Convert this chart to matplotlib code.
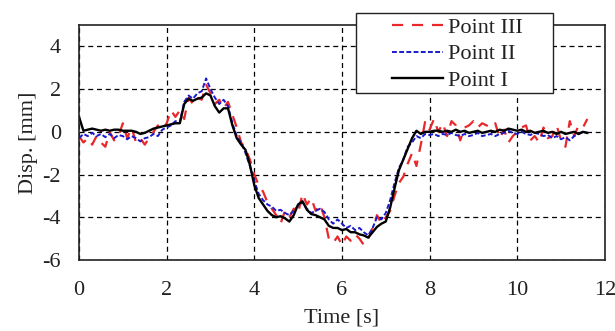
import matplotlib
matplotlib.use('Agg')
import matplotlib.pyplot as plt
import matplotlib.patches as mpatches
import numpy as np

plt.rcParams['font.family'] = ['Liberation Serif', 'DejaVu Serif']
plt.rcParams['axes.unicode_minus'] = False

# sampling grid, 0.1 s
time = np.round(np.arange(0, 11.65, 0.1), 2)

point1 = [0.7, 0.05, 0.1, 0.15, 0.1, 0.05, 0.1, 0.05, 0.1, 0.1,
          0.05, 0.05, 0.05, 0.0, -0.1, -0.05, 0.05, 0.15, 0.2, 0.25,
          0.3, 0.35, 0.4, 0.4, 1.3, 1.55, 1.45, 1.55, 1.6, 1.8,
          1.7, 1.2, 0.9, 1.1, 1.1, 0.3, -0.3, -0.6, -0.85, -1.55,
          -2.5, -3.1, -3.4, -3.7, -3.9, -4.0, -3.95, -4.05, -4.2, -3.9,
          -3.4, -3.25, -3.65, -3.85, -3.9, -4.0, -4.1, -4.4, -4.5, -4.5,
          -4.6, -4.55, -4.7, -4.7, -4.8, -4.85, -4.95, -4.7, -4.45, -4.3,
          -4.2, -3.55, -2.65, -1.8, -1.3, -0.8, -0.3, 0.05, -0.1, 0.0,
          0.0, 0.05, 0.05, 0.0, 0.05, 0.0, 0.1, 0.0, 0.05, -0.05,
          0.0, 0.05, -0.05, 0.0, 0.05, 0.0, 0.1, 0.05, 0.15, 0.1,
          0.05, 0.1, 0.0, 0.05, -0.05, 0.0, 0.05, -0.05, 0.0, -0.1,
          0.0, -0.1, -0.05, 0.0, -0.1, 0.0, -0.05]

point2 = [-0.3, -0.1, -0.2, -0.05, -0.2, -0.1, -0.25, -0.1, -0.3, -0.15,
          -0.2, -0.35, -0.2, -0.3, -0.45, -0.3, -0.25, -0.1, -0.2, 0.1,
          0.2, 0.3, 0.5, 0.45, 1.4, 1.7, 1.55, 1.8, 1.9, 2.5,
          2.0, 1.6, 1.3, 1.5, 1.2, 0.4, -0.2, -0.5, -1.0, -1.6,
          -2.3, -2.9, -3.2, -3.4, -3.5, -3.7, -3.65, -3.8, -3.9, -3.7,
          -3.45, -3.3, -3.6, -3.8, -3.7, -3.6, -3.75, -4.1, -4.3, -4.1,
          -4.3, -4.5, -4.4, -4.6, -4.5, -4.7, -4.85, -4.5, -4.0, -4.1,
          -3.8, -3.2, -2.4, -1.7, -1.3, -0.7, -0.5, -0.2, -0.3, -0.1,
          -0.15, -0.1, -0.2, -0.1, -0.15, -0.05, -0.15, -0.2, -0.1, -0.2,
          -0.15, -0.05, -0.2, -0.15, -0.1, -0.2, -0.1, -0.05, 0.05, -0.05,
          -0.1, 0.0, -0.1, -0.15, -0.05, -0.1, -0.2, -0.15, -0.3, -0.2,
          -0.35, -0.25, -0.4, -0.2, -0.1, 0.0, -0.05]

point3 = [-0.2, -0.5, -0.3, -0.6, -0.2, -0.5, -0.7, 0.0, -0.4, -0.2,
          0.4, -0.3, 0.2, -0.5, -0.3, -0.6, -0.3, 0.0, 0.3, 0.1,
          0.4, 1.0, 0.7, 1.0, 0.6, 1.6, 1.3, 1.6, 1.5, 2.2,
          1.8, 1.3, 1.5, 1.1, 1.4, 0.8, 0.2, -0.5, -0.8, -1.3,
          -2.0, -2.5, -2.8, -3.3, -3.6, -3.9, -4.3, -3.7, -4.0, -3.6,
          -3.8, -2.9, -3.4, -3.1, -3.7, -3.4, -4.0, -5.0, -5.2, -4.9,
          -5.3, -4.9, -5.1, -4.8, -5.0, -5.3, -5.0, -4.5, -3.9, -4.3,
          -4.0, -3.7, -3.0, -2.4, -2.1, -1.5, -1.0, -1.6, -0.6, 0.5,
          0.1, 0.6, 0.0, 0.4, -0.2, 0.5, 0.3, -0.4, 0.2, 0.3,
          0.5, 0.2, 0.4, 0.3, 0.2, 0.4, -0.3, 0.1, -0.5, -0.2,
          0.0, 0.2, 0.3, -0.4, -0.2, -0.5, 0.2, -0.3, -0.2, 0.3,
          -0.4, -0.7, 0.5, -0.2, 0.3, 0.2, 0.6]

xticks = [0, 2, 4, 6, 8, 10, 12]
yticks = [-6, -4, -2, 0, 2, 4]

W, H = 615, 331
fig = plt.figure(figsize=(W / 100, H / 100), dpi=100)
ax = fig.add_axes([0.1285, 0.2145, 0.855, 0.71])

ax.plot(time, point3, color='#e8282b', lw=1.6, dashes=(5, 4), label='Point III')
ax.plot(time, point2, color='#1a1acc', lw=1.4, dashes=(2.5, 1.2), label='Point II')
ax.plot(time, point1, color='black', lw=1.7, label='Point I')

ax.set_xlim(0, 12)
ax.set_ylim(-6, 5)
ax.set_xticks(xticks)
ax.set_yticks(yticks)
ax.tick_params(length=0, labelsize=16, colors='#222222')
ax.tick_params(axis='y', pad=13)
ax.tick_params(axis='x', pad=15)
ax.grid(True, color='black', ls=(0, (4, 3)), lw=0.9)
for s in ax.spines.values():
    s.set_linewidth(1.2)
    s.set_color('#222222')

ax.set_xlabel('Time [s]', fontsize=16, color='#222222', labelpad=6)
ax.set_ylabel('Disp. [mm]', fontsize=16, color='#222222', labelpad=3)

# legend box over the top edge of the axes
box = mpatches.Rectangle((356 / W, 1 - 93 / H), 197 / W, 80 / H,
                         transform=fig.transFigure, facecolor='white',
                         edgecolor='#222222', lw=1.0, zorder=9)
fig.add_artist(box)

h, l = ax.get_legend_handles_labels()
leg = fig.legend(h, l, loc='upper left', bbox_to_anchor=(392 / W, 1 - 17 / H),
                 fontsize=16, frameon=False, handlelength=2.3, handletextpad=0.2,
                 labelspacing=0.28, borderpad=0, borderaxespad=0)
for t in leg.get_texts():
    t.set_color('#222222')
leg.set_zorder(10)

plt.savefig('out.png', dpi=100)
